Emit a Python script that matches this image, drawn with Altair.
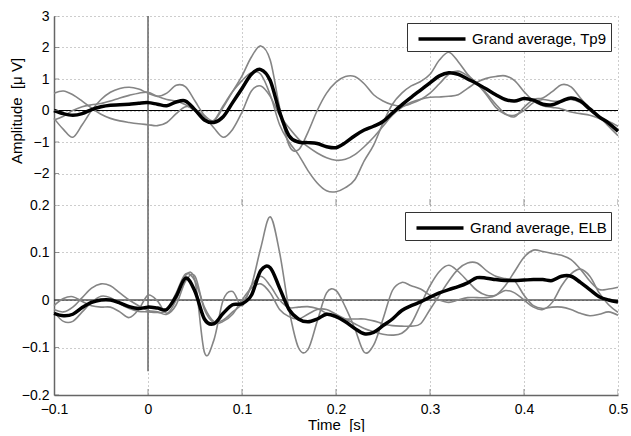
import altair as alt
import pandas as pd

TIME = [-0.10, -0.09, -0.08, -0.07, -0.06, -0.05, -0.04, -0.03, -0.02, -0.01,
        0.00, 0.01, 0.02, 0.03, 0.04, 0.05, 0.06, 0.07, 0.08, 0.09,
        0.10, 0.11, 0.12, 0.13, 0.14, 0.15, 0.16, 0.17, 0.18, 0.19,
        0.20, 0.21, 0.22, 0.23, 0.24, 0.25, 0.26, 0.27, 0.28, 0.29,
        0.30, 0.31, 0.32, 0.33, 0.34, 0.35, 0.36, 0.37, 0.38, 0.39,
        0.40, 0.41, 0.42, 0.43, 0.44, 0.45, 0.46, 0.47, 0.48, 0.49, 0.50]

# ---- Tp9 (upper panel), micro-volts ----
TP9_AVG = [0.00, -0.10, -0.15, -0.10, 0.03, 0.12, 0.17, 0.18, 0.20, 0.23,
           0.25, 0.20, 0.15, 0.27, 0.30, 0.02, -0.30, -0.38, -0.20, 0.25,
           0.70, 1.15, 1.30, 0.95, -0.05, -0.80, -1.00, -1.02, -1.05, -1.15,
           -1.18, -1.02, -0.80, -0.62, -0.50, -0.35, -0.08, 0.18, 0.42, 0.65,
           0.88, 1.10, 1.20, 1.15, 1.00, 0.85, 0.68, 0.50, 0.35, 0.30,
           0.38, 0.33, 0.20, 0.18, 0.30, 0.40, 0.30, 0.05, -0.20, -0.40, -0.66]
TP9_S1 = [0.55, 0.62, 0.50, 0.30, 0.08, -0.12, -0.25, -0.33, -0.38, -0.42,
          -0.45, -0.48, -0.38, -0.10, 0.12, 0.05, -0.20, -0.55, -0.85, -0.60,
          -0.05, 0.62, 0.78, 0.45, -0.15, -0.55, -0.90, -1.15, -1.35, -1.50,
          -1.58, -1.55, -1.40, -1.15, -0.85, -0.50, -0.15, 0.10, 0.26, 0.36,
          0.42, 0.43, 0.45, 0.50, 0.70, 0.90, 1.02, 1.08, 1.10, 0.95,
          0.60, 0.30, 0.15, 0.10, 0.05, -0.05, -0.10, -0.15, -0.25, -0.35, -0.50]
TP9_S2 = [-0.25, -0.60, -0.85, -0.45, 0.00, 0.35, 0.58, 0.70, 0.74, 0.68,
          0.55, 0.45, 0.55, 0.80, 0.75, 0.30, -0.15, -0.32, 0.10, 0.60,
          1.10, 1.70, 2.05, 1.60, 0.10, -1.10, -1.25, -0.70, 0.00, 0.55,
          0.90, 1.08, 1.08, 0.85, 0.50, 0.30, 0.18, 0.14, 0.22, 0.35,
          0.55, 0.85, 1.15, 1.25, 1.10, 0.85, 0.50, 0.10, -0.12, -0.15,
          0.00, 0.25, 0.35, 0.30, 0.30, 0.35, 0.25, 0.00, -0.20, -0.40, -0.60]
TP9_S3 = [-0.30, -0.18, 0.00, 0.12, 0.18, 0.22, 0.30, 0.40, 0.48, 0.55,
          0.58, 0.45, 0.35, 0.30, 0.18, -0.02, -0.30, -0.32, 0.15, 0.60,
          0.95, 1.20, 1.15, 0.50, -0.45, -1.00, -1.40, -1.90, -2.30, -2.55,
          -2.58, -2.45, -2.20, -1.60, -1.10, -0.40, 0.20, 0.55, 0.78, 0.92,
          1.15, 1.60, 1.85, 1.55, 1.15, 0.85, 0.55, 0.20, -0.10, -0.20,
          0.10, 0.35, 0.40, 0.60, 0.82, 0.75, 0.40, 0.05, -0.20, -0.50, -0.80]

# ---- ELB (lower panel), micro-volts ----
ELB_AVG = [-0.028, -0.033, -0.030, -0.016, -0.005, 0.000, 0.000, -0.006, -0.014, -0.018,
           -0.015, -0.017, -0.020, 0.008, 0.046, 0.018, -0.040, -0.050, -0.028, -0.010,
           -0.008, 0.010, 0.062, 0.068, 0.025, -0.020, -0.040, -0.046, -0.040, -0.030,
           -0.035, -0.046, -0.060, -0.071, -0.068, -0.054, -0.040, -0.022, -0.012, -0.004,
           0.006, 0.015, 0.022, 0.028, 0.036, 0.047, 0.046, 0.043, 0.041, 0.041,
           0.042, 0.043, 0.043, 0.041, 0.050, 0.050, 0.037, 0.022, 0.007, 0.000, -0.004]
ELB_S1 = [-0.025, -0.045, -0.045, -0.025, -0.005, 0.008, 0.005, -0.008, -0.018, -0.024,
          -0.025, -0.026, -0.022, 0.015, 0.055, 0.040, -0.015, -0.045, -0.042, -0.025,
          -0.008, 0.030, 0.110, 0.175, 0.100, -0.020, -0.100, -0.105, -0.045, 0.015,
          0.020, -0.015, -0.060, -0.110, -0.095, -0.040, 0.020, 0.037, 0.030, 0.023,
          0.010, 0.000, -0.005, 0.000, 0.005, 0.005, 0.005, 0.010, 0.030, 0.060,
          0.090, 0.105, 0.102, 0.098, 0.094, 0.085, 0.065, 0.040, 0.022, 0.023, 0.027]
ELB_S2 = [-0.012, 0.003, 0.007, -0.003, -0.012, -0.015, -0.015, -0.025, -0.037, -0.020,
          0.010, -0.002, -0.028, 0.000, 0.052, 0.040, -0.110, -0.085, 0.000, 0.018,
          -0.012, 0.030, 0.050, 0.030, 0.000, -0.016, -0.015, -0.014, -0.018, -0.028,
          -0.037, -0.040, -0.040, -0.040, -0.044, -0.050, -0.054, -0.055, -0.055, -0.050,
          -0.020, 0.010, 0.040, 0.065, 0.078, 0.078, 0.062, 0.050, 0.045, 0.040,
          0.010, -0.012, -0.018, -0.015, -0.015, -0.020, -0.028, -0.033, -0.030, -0.025, -0.032]
ELB_S3 = [-0.020, -0.025, -0.015, 0.005, 0.025, 0.034, 0.030, 0.015, 0.000, -0.012,
          -0.022, -0.025, -0.030, -0.010, 0.040, 0.050, -0.020, -0.048, -0.045, -0.030,
          0.000, 0.025, 0.034, 0.015, -0.020, -0.035, -0.040, -0.030, -0.020, -0.020,
          -0.030, -0.040, -0.050, -0.060, -0.067, -0.072, -0.074, -0.070, -0.050, -0.010,
          0.030, 0.060, 0.073, 0.060, 0.040, 0.020, 0.010, 0.010, 0.020, 0.015,
          0.000, -0.015, -0.020, -0.005, 0.030, 0.055, 0.065, 0.050, 0.015, -0.010, -0.026]

X_TICKS = [-0.1, 0.0, 0.1, 0.2, 0.3, 0.4, 0.5]
TOP_Y_TICKS = [-2, -1, 0, 1, 2, 3]
TOP_Y_DOMAIN = [-3, 3]
BOT_Y_TICKS = [-0.2, -0.1, 0.0, 0.1, 0.2]
BOT_Y_DOMAIN = [-0.2, 0.2]
TOP_VLINE = [3, -3]
BOT_VLINE = [0.2, -0.15]
ZERO = [0]
LEGENDS = ["Grand average, Tp9", "Grand average, ELB"]

GREY = "#858585"
AXIS_GREY = "#666666"


def panel(subjects, avg, label, ydom, yticks, vline, height, bottom):
    rows = []
    for name, vals in subjects:
        for t, v in zip(TIME, vals):
            rows.append({"t": t, "v": v, "subject": name})
    grey_df = pd.DataFrame(rows)
    avg_df = pd.DataFrame({"t": TIME, "v": avg, "label": [label] * len(TIME)})

    if bottom:
        xaxis = alt.Axis(values=X_TICKS, format=".1~f", title="Time\u00a0 [s]",
                         grid=True, domain=True, ticks=False, labelPadding=7,
                         titlePadding=1, labelFlush=False)
        yaxis = alt.Axis(values=yticks, format=".1~f", title=None, grid=True,
                         domain=True, ticks=False, labelPadding=5, labelFlush=False)
    else:
        xaxis = alt.Axis(values=X_TICKS, labels=False, title=None, grid=True,
                         domain=False, ticks=False)
        yaxis = alt.Axis(values=yticks, format="~g", title="Amplitude\u00a0 [\u03bc V]",
                         grid=True, domain=True, ticks=False, labelPadding=5,
                         titlePadding=9, labelFlush=False)

    x = alt.X("t:Q", scale=alt.Scale(domain=[-0.1, 0.5], nice=False, zero=False), axis=xaxis)
    y = alt.Y("v:Q", scale=alt.Scale(domain=ydom, nice=False, zero=False), axis=yaxis)

    zero = alt.Chart(pd.DataFrame({"v": ZERO})).mark_rule(
        color="black", strokeWidth=1).encode(y=y)
    vl = alt.Chart(pd.DataFrame({"t": [0], "v": [vline[0]], "v2": [vline[1]]})).mark_rule(
        color=AXIS_GREY, strokeWidth=1.5).encode(x=x, y=y, y2="v2:Q")
    grey = alt.Chart(grey_df).mark_line(
        color=GREY, strokeWidth=1.6, interpolate="cardinal").encode(x=x, y=y, detail="subject:N")
    mean = alt.Chart(avg_df).mark_line(strokeWidth=3.5, interpolate="cardinal").encode(
        x=x, y=y,
        color=alt.Color("label:N", scale=alt.Scale(domain=[label], range=["black"]),
                        legend=alt.Legend(title=None, orient="top-right", offset=7,
                                          symbolType="M-2.35,0H2.35", symbolSize=400,
                                          symbolStrokeWidth=3.5, symbolOffset=19,
                                          labelFontSize=15, labelColor="black",
                                          labelLimit=400, labelOffset=18,
                                          strokeColor="#333333", fillColor="white",
                                          padding=4)))
    xt = alt.Chart(pd.DataFrame({"t": X_TICKS, "v": [ydom[0]] * len(X_TICKS)})).mark_tick(
        orient="vertical", size=12, thickness=1, color=AXIS_GREY, clip=True).encode(x=x, y=y)
    yt = alt.Chart(pd.DataFrame({"t": [-0.1] * len(yticks), "v": yticks})).mark_tick(
        orient="horizontal", size=10, thickness=1, color=AXIS_GREY, clip=True).encode(x=x, y=y)

    return alt.layer(zero, vl, grey, mean, xt, yt).properties(width=564, height=height)


top = panel([("a", TP9_S1), ("b", TP9_S2), ("c", TP9_S3)], TP9_AVG, LEGENDS[0],
            TOP_Y_DOMAIN, TOP_Y_TICKS, TOP_VLINE, 189, False)
bot = panel([("a", ELB_S1), ("b", ELB_S2), ("c", ELB_S3)], ELB_AVG, LEGENDS[1],
            BOT_Y_DOMAIN, BOT_Y_TICKS, BOT_VLINE, 190, True)

chart = alt.vconcat(top, bot, spacing=0, bounds="flush").resolve_scale(
    color="independent").configure(
    font="Liberation Sans",
    padding={"left": 9, "top": 9, "right": 0, "bottom": 0},
).configure_view(stroke=None).configure_axis(
    labelFontSize=14, labelColor="black", titleFontSize=15, titleFontWeight="normal",
    titleColor="black", gridColor="#9a9a9a", gridDash=[1, 3], gridWidth=1,
    domainColor=AXIS_GREY, domainWidth=1.5,
)

chart.save("out.html", embed_options={"renderer": "svg", "actions": False})
